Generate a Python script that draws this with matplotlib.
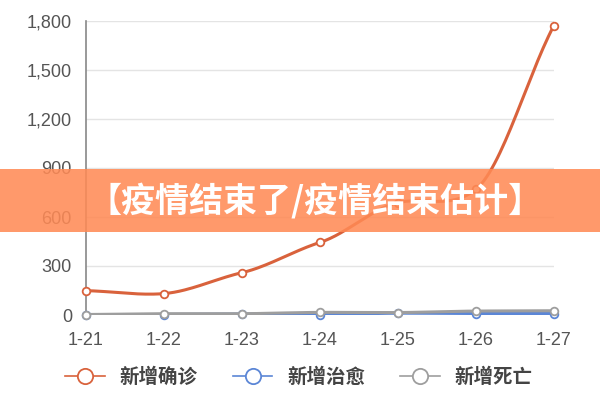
import numpy as np
import matplotlib
matplotlib.use("Agg")
import matplotlib.pyplot as plt
from matplotlib.ticker import FuncFormatter
from matplotlib.lines import Line2D
import matplotlib.patches as mpatches

plt.rcParams['font.family'] = ['Noto Sans CJK SC', 'DejaVu Sans']

dates = ["1-21", "1-22", "1-23", "1-24", "1-25", "1-26", "1-27"]
confirmed = [149, 131, 259, 444, 688, 769, 1771]
recovered = [0, 3, 6, 3, 11, 9, 9]
deaths = [3, 8, 8, 16, 15, 24, 26]
series_names = ["新增确诊", "新增治愈", "新增死亡"]
yticks = [0, 300, 600, 900, 1200, 1500, 1800]
banner_text = "【疫情结束了/疫情结束估计】"

colors = ["#d9623c", "#5b86d6", "#9e9e9e"]


def smooth(xs, ys, n=30):
    xs = np.asarray(xs, float)
    ys = np.asarray(ys, float)
    m = np.zeros_like(ys)
    m[1:-1] = (ys[2:] - ys[:-2]) / (xs[2:] - xs[:-2]) * 0.7
    m[0] = (ys[1] - ys[0]) / (xs[1] - xs[0]) * 0.5
    m[-1] = (ys[-1] - ys[-2]) / (xs[-1] - xs[-2]) * 0.9
    ox, oy = [], []
    for i in range(len(xs) - 1):
        t = np.linspace(0, 1, n, endpoint=(i == len(xs) - 2))
        h = xs[i + 1] - xs[i]
        h00 = 2 * t**3 - 3 * t**2 + 1
        h10 = t**3 - 2 * t**2 + t
        h01 = -2 * t**3 + 3 * t**2
        h11 = t**3 - t**2
        ox.append(xs[i] + t * h)
        oy.append(h00 * ys[i] + h10 * h * m[i] + h01 * ys[i + 1] + h11 * h * m[i + 1])
    return np.concatenate(ox), np.concatenate(oy)


fig = plt.figure(figsize=(6, 4), dpi=100)
fig.patch.set_facecolor("white")
ax = fig.add_axes([0.143, 0.2125, 0.78, 0.735])

x = np.arange(len(dates))
for vals, c, z in [(recovered, colors[1], 3), (deaths, colors[2], 4), (confirmed, colors[0], 5)]:
    sx, sy = smooth(x, vals)
    ax.plot(sx, sy, color=c, lw=2.2, zorder=z, solid_capstyle="round")
    ax.plot(x, vals, linestyle="none", marker="o", ms=5.5, mfc="white",
            mec=c, mew=1.3, zorder=z + 0.5, clip_on=False)

ax.set_xlim(0, len(dates) - 1)
ax.set_ylim(0, 1800)
ax.set_xticks(x)
ax.set_xticklabels(dates)
ax.set_yticks(yticks)
ax.yaxis.set_major_formatter(FuncFormatter(lambda v, p: f"{int(v):,}"))
ax.tick_params(axis="both", length=0, labelsize=13, colors="#555555")
ax.tick_params(axis="x", pad=12)
ax.tick_params(axis="y", pad=10)
for lab in ax.get_xticklabels() + ax.get_yticklabels():
    lab.set_fontfamily(["Liberation Sans", "DejaVu Sans"])
ax.grid(axis="y", color="#e4e4e4", lw=1)
ax.set_axisbelow(True)
for s in ["top", "right", "bottom"]:
    ax.spines[s].set_visible(False)
ax.spines["left"].set_color("#888888")
ax.spines["left"].set_linewidth(1.2)

handles = [Line2D([0], [0], color=c, lw=1.2, marker="o", ms=11, mfc="white", mec=c, mew=1.3)
           for c in colors]
leg = fig.legend(handles, series_names, loc="center", bbox_to_anchor=(0.498, 0.058),
                 ncol=3, frameon=False, handlelength=2.05, columnspacing=1.8,
                 handletextpad=0.75, prop={"size": 14, "weight": "bold"})
for t in leg.get_texts():
    t.set_color("#444444")

# banner overlay
fig.add_artist(mpatches.Rectangle((0, 1 - 232 / 400), 1, 63 / 400, transform=fig.transFigure,
                                  facecolor="#ff8a55", alpha=0.87, edgecolor="none", zorder=10))
fig.text(0.525, 1 - 201 / 400, banner_text, ha="center", va="center", color="white",
         fontsize=24.5, fontweight="heavy", zorder=11)

fig.savefig("out.png", dpi=100)
